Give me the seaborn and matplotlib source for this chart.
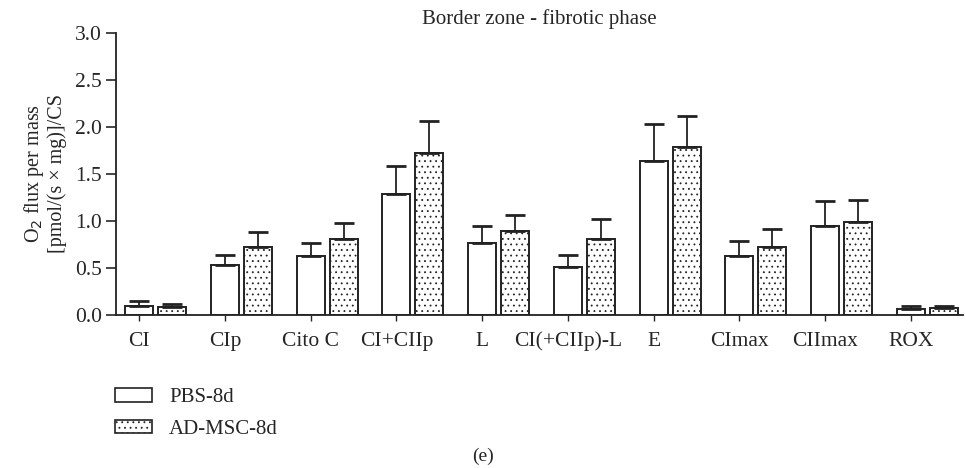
import matplotlib
matplotlib.use("Agg")
import matplotlib.pyplot as plt
import seaborn as sns
import pandas as pd
import numpy as np
from matplotlib.patches import Patch

categories = ["CI", "CIp", "Cito C", "CI+CIIp", "L", "CI(+CIIp)-L", "E", "CImax", "CIImax", "ROX"]
groups = ["PBS-8d", "AD-MSC-8d"]
pbs_mean = [0.10, 0.53, 0.63, 1.29, 0.76, 0.51, 1.64, 0.63, 0.95, 0.06]
pbs_err = [0.05, 0.11, 0.14, 0.29, 0.185, 0.13, 0.39, 0.16, 0.26, 0.03]
msc_mean = [0.08, 0.72, 0.81, 1.72, 0.89, 0.81, 1.79, 0.72, 0.985, 0.07]
msc_err = [0.04, 0.165, 0.17, 0.34, 0.17, 0.21, 0.33, 0.19, 0.235, 0.03]

df = pd.DataFrame({
    "category": categories * 2,
    "group": [groups[0]] * len(categories) + [groups[1]] * len(categories),
    "value": pbs_mean + msc_mean,
})

sns.set_style("ticks")
plt.rcParams["font.family"] = ["Liberation Serif", "DejaVu Serif"]
plt.rcParams["hatch.linewidth"] = 0.6

fig = plt.figure(figsize=(9.66, 4.68), dpi=100)
ax = fig.add_axes([0.120, 0.327, 0.877, 0.603])

sns.barplot(data=df, x="category", y="value", hue="group", order=categories,
            hue_order=groups, palette=["white", "white"], width=0.77, gap=0.15,
            edgecolor="black", linewidth=1.4, legend=False, ax=ax, errorbar=None)

n = len(categories)
patches = list(ax.patches)
for k, p in enumerate(patches):
    if k >= n:
        p.set_hatch("...")
    p.set_edgecolor("#222222")

errs = pbs_err + msc_err
means = pbs_mean + msc_mean
xs = [p.get_x() + p.get_width() / 2 for p in patches]
ax.errorbar(xs, means, yerr=[np.zeros(len(errs)), errs], fmt="none",
            ecolor="#222222", elinewidth=1.3, capsize=7, capthick=2.0, zorder=1)

pbs_centers = xs[:n]
ax.set_xticks(pbs_centers)
ax.set_xticklabels(categories, fontsize=15.5)
ax.set_xlim(pbs_centers[0] - 0.27, pbs_centers[0] + 9.61)
ax.set_ylim(0, 3.0)
ax.set_yticks([0, 0.5, 1.0, 1.5, 2.0, 2.5, 3.0])
ax.set_yticklabels(["0.0", "0.5", "1.0", "1.5", "2.0", "2.5", "3.0"], fontsize=15.5)
ax.tick_params(axis="y", length=7, width=1.2, pad=3)
ax.tick_params(axis="x", length=4, width=1.0, pad=8)
for s in ["top", "right"]:
    ax.spines[s].set_visible(False)
for s in ["left", "bottom"]:
    ax.spines[s].set_linewidth(1.3)
    ax.spines[s].set_color("#222222")
ax.set_xlabel("")
ax.set_ylabel("O$_2$ flux per mass\n[pmol/(s × mg)]/CS", fontsize=14.5, labelpad=6,
              linespacing=1.05)
ax.set_title("Border zone - fibrotic phase", fontsize=15, pad=6)

handles = [Patch(facecolor="white", edgecolor="#222222", linewidth=1.2, label=groups[0]),
           Patch(facecolor="white", edgecolor="#222222", linewidth=1.2, hatch="...", label=groups[1])]
fig.legend(handles=handles, loc="upper left", bbox_to_anchor=(0.108, 1 - 378 / 468),
           frameon=False, fontsize=15, handlelength=1.8, handleheight=0.6,
           handletextpad=0.8, labelspacing=0.6, borderpad=0.0)

fig.text(0.5, 1 - 456 / 468, "(e)", ha="center", va="center", fontsize=14)

fig.savefig("out.png", dpi=100)
